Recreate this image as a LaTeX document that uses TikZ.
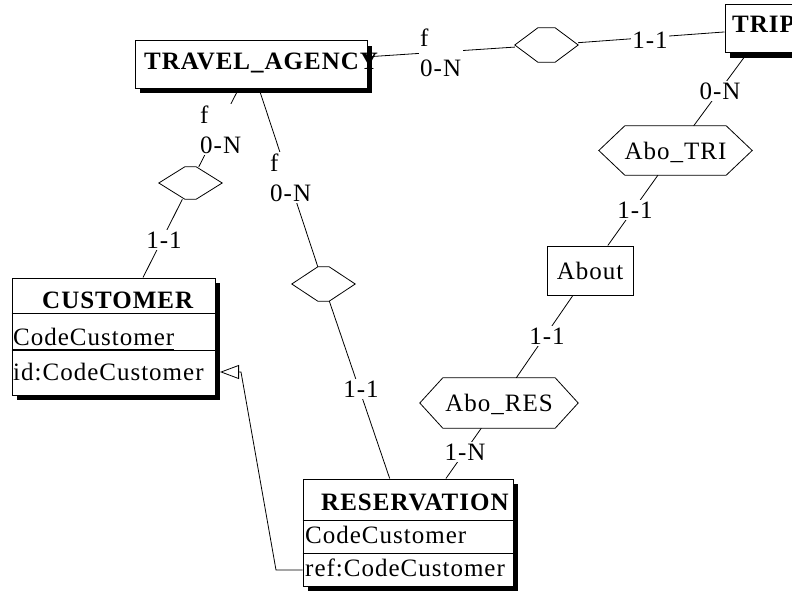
\documentclass[tikz,border=0pt]{standalone}
\usepackage{fontspec}
\setmainfont{Liberation Serif}[LetterSpace=4]
\usetikzlibrary{arrows.meta,shadows}

% hexagonal relationship outline around a (bounding-box) node
\newcommand\hexa[2]{%
  \draw[link] (#1.west) -- ([xshift=#2]#1.north west) -- ([xshift=-#2]#1.north east)
    -- (#1.east) -- ([xshift=-#2]#1.south east) -- ([xshift=#2]#1.south west) -- cycle;}

\tikzset{
  ent/.style={draw, line width=1pt, fill=white, inner sep=0pt,
    drop shadow={shadow xshift=5pt, shadow yshift=-5pt, opacity=1, fill=black}},
  plainbox/.style={draw, line width=1pt, fill=white, inner sep=0pt},
  rel/.style={inner sep=0pt, text depth=0pt},
  txt/.style={inner sep=0pt, anchor=base west},
  title/.style={txt, font=\bfseries},
  lbl/.style={fill=white, inner sep=1.5pt, align=left},
  link/.style={line width=0.8pt},
  sep/.style={line width=1pt},
  isa/.style={link, -{Triangle[open, length=19pt, width=14pt, line width=0.8pt]}},
}

\begin{document}
\fontsize{25}{30}\selectfont
\begin{tikzpicture}[x=1pt, y=-1pt]
\useasboundingbox (0,0) rectangle (792,594);
\clip (0,0) rectangle (792,594);

% ---- entity types ----
\node[ent, minimum width=232pt, minimum height=47pt] (ta) at (251,64.5) {};
\node[title] (taT) at (144,70) {TRAVEL\_AGENCY};

\node[ent, minimum width=80pt, minimum height=48pt] (trip) at (765,29) {};
\node[title] (tripT) at (732,33) {TRIP};

\node[ent, minimum width=203pt, minimum height=117pt] (cust) at (113.5,336.5) {};
\node[title] (custT) at (42,308) {CUSTOMER};
\node[txt] (custA) at (13,345) {CodeCustomer};
\node[txt] (custId) at (13,380) {id:CodeCustomer};
\draw[sep] (cust.west |- 0,313) -- (cust.east |- 0,313);
\draw[sep] (cust.west |- 0,350) -- (cust.east |- 0,350);
\draw[line width=0.9pt] ([yshift=-4pt]custA.base west) -- ([yshift=-4pt]custA.base east);

\node[ent, minimum width=210pt, minimum height=107pt] (res) at (408,532.5) {};
\node[title] (resT) at (321,510) {RESERVATION};
\node[txt] (resA) at (305,543) {CodeCustomer};
\node[txt] (resRef) at (305,576) {ref:CodeCustomer};
\draw[sep] (res.west |- 0,520) -- (res.east |- 0,520);
\draw[sep] (res.west |- 0,553) -- (res.east |- 0,553);

\node[plainbox, minimum width=86pt, minimum height=49pt] (about) at (590,270.5) {About};

% ---- relationship types ----
\node[rel, minimum width=63pt, minimum height=34pt] (d1) at (546.5,45) {};
\hexa{d1}{23pt}
\node[rel, minimum width=63pt, minimum height=32pt] (d2) at (190.5,183) {};
\hexa{d2}{26pt}
\node[rel, minimum width=63pt, minimum height=34pt] (d3) at (323.5,284) {};
\hexa{d3}{26pt}
\node[rel, minimum width=153pt, minimum height=49pt] (abotri) at (675.5,150.5) {Abo\_TRI};
\hexa{abotri}{26pt}
\node[rel, minimum width=158pt, minimum height=50pt] (abores) at (499,403) {Abo\_RES};
\hexa{abores}{23pt}

% ---- role links ----
\draw[link] (ta) -- (d1);
\draw[link] (d1) -- (trip);
\draw[link] (ta) -- (d2);
\draw[link] (d2) -- (cust);
\draw[link] (ta) -- (d3);
\draw[link] (d3) -- (res);
\draw[link] (trip) -- (abotri);
\draw[link] (abotri) -- (about);
\draw[link] (about) -- (abores);
\draw[link] (abores) -- (res);

% ---- reference (foreign key) arrow ----
\coordinate (isaFoot) at (res.west |- 0,570);
\coordinate (isaTip) at (220,372);
\draw[isa] (isaFoot) -- (276,570) -- (241,372) -- (isaTip);

% ---- cardinalities ----
\node[lbl, anchor=north west] (c1) at (418.5,27) {f\\0-N};
\node[lbl] (c2) at (650,40) {1-1};
\node[lbl, anchor=north west] (c3) at (198.5,104) {f\\0-N};
\node[lbl] (c4) at (164,240) {1-1};
\node[lbl, anchor=north west] (c5) at (268.5,152) {f\\0-N};
\node[lbl] (c6) at (361,389) {1-1};
\node[lbl] (c7) at (720,91) {0-N};
\node[lbl] (c8) at (635,210) {1-1};
\node[lbl] (c9) at (547,336) {1-1};
\node[lbl] (c10) at (465,452) {1-N};
\end{tikzpicture}
\end{document}
